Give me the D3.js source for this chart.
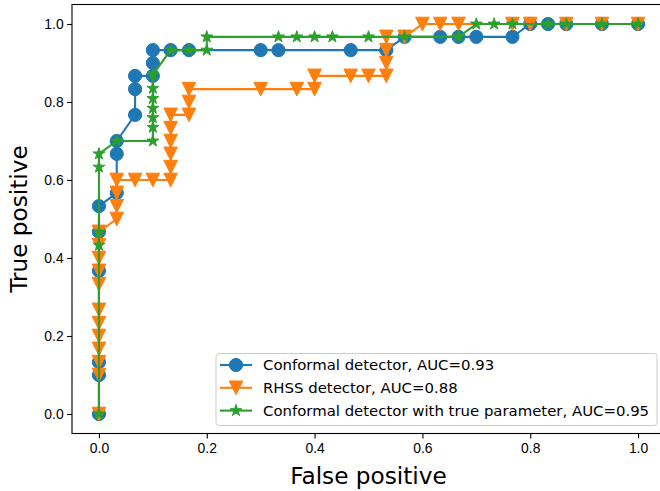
<!DOCTYPE html>
<html>
<head>
<meta charset="utf-8">
<script src="https://cdn.jsdelivr.net/npm/d3@7"></script>
<style>
  body { margin: 0; background: #fff; }
  svg { display: block; font-family: "DejaVu Sans", sans-serif; }
  .tick text { font-size: 13.9px; fill: #000; }
</style>
</head>
<body>
<div id="chart"></div>
<script>
// ROC curves
const conformalFpr = [0, 0, 0, 0, 0, 0, 0.033, 0.033, 0.033, 0.067, 0.067, 0.067, 0.1, 0.1, 0.1,
  0.133, 0.167, 0.3, 0.333, 0.467, 0.533, 0.567, 0.633, 0.667, 0.7, 0.767, 0.8, 0.833, 0.867, 0.933, 1.0];
const conformalTpr = [0, 0.1, 0.133, 0.367, 0.467, 0.533, 0.567, 0.667, 0.7, 0.767, 0.833, 0.867, 0.867, 0.9, 0.933,
  0.933, 0.933, 0.933, 0.933, 0.933, 0.933, 0.967, 0.967, 0.967, 0.967, 0.967, 1.0, 1.0, 1.0, 1.0, 1.0];

const rhssFpr = [0, 0, 0, 0, 0, 0, 0, 0, 0, 0, 0, 0,
  0.033, 0.033, 0.033, 0.033, 0.067, 0.1, 0.133, 0.133, 0.133, 0.133, 0.133, 0.133,
  0.167, 0.167, 0.167, 0.3, 0.367, 0.4, 0.4, 0.467, 0.5, 0.533, 0.533, 0.533, 0.533,
  0.567, 0.6, 0.633, 0.667, 0.767, 0.8, 0.867, 0.933, 1.0];
const rhssTpr = [0, 0.1, 0.133, 0.167, 0.2, 0.233, 0.267, 0.333, 0.367, 0.4, 0.433, 0.467,
  0.5, 0.533, 0.567, 0.6, 0.6, 0.6, 0.6, 0.633, 0.667, 0.7, 0.733, 0.767,
  0.767, 0.8, 0.833, 0.833, 0.833, 0.833, 0.867, 0.867, 0.867, 0.867, 0.9, 0.933, 0.967,
  0.967, 1.0, 1.0, 1.0, 1.0, 1.0, 1.0, 1.0, 1.0];

const trueParamFpr = [0, 0, 0, 0, 0, 0.033, 0.1, 0.1, 0.1, 0.1, 0.1, 0.1, 0.1,
  0.133, 0.167, 0.2, 0.2, 0.333, 0.367, 0.4, 0.433, 0.5, 0.567, 0.667,
  0.7, 0.733, 0.767, 0.833, 0.867, 0.933, 1.0];
const trueParamTpr = [0, 0.433, 0.467, 0.633, 0.667, 0.7, 0.7, 0.735, 0.76, 0.784, 0.809, 0.835, 0.87,
  0.933, 0.933, 0.933, 0.967, 0.967, 0.967, 0.967, 0.967, 0.967, 0.967, 0.967,
  1.0, 1.0, 1.0, 1.0, 1.0, 1.0, 1.0];

const seriesNames = ['Conformal detector, AUC=0.93', 'RHSS detector, AUC=0.88',
  'Conformal detector with true parameter, AUC=0.95'];
const seriesColors = ['#1f77b4', '#ff7f0e', '#2ca02c'];
const seriesMarkers = ['circle', 'triangle', 'star'];
const tickValues = [0, 0.2, 0.4, 0.6, 0.8, 1.0];

const W = 660, H = 491;
const AX = { left: 72, right: 665, top: 4.5, bottom: 433.5 };

const svg = d3.select('#chart').append('svg').attr('width', W).attr('height', H);

const x = d3.scaleLinear().domain([-0.05, 1.05]).range([AX.left, AX.right]);
const y = d3.scaleLinear().domain([-0.05, 1.05]).range([AX.bottom, AX.top]);

// markers, sized like matplotlib markersize 10
function markerPath(kind) {
  if (kind === 'circle') {
    const r = 6.6;
    return `M${-r},0A${r},${r} 0 1,0 ${r},0A${r},${r} 0 1,0 ${-r},0Z`;
  }
  if (kind === 'triangle') {
    const h = 6.8;
    return `M0,${h}L${-h},${-h}L${h},${-h}Z`;
  }
  // 5-point star
  const R = 6.2, r = R * 0.381966;
  const pts = [];
  for (let i = 0; i < 10; i++) {
    const a = -Math.PI / 2 + i * Math.PI / 5;
    const rad = i % 2 === 0 ? R : r;
    pts.push([rad * Math.cos(a), rad * Math.sin(a)]);
  }
  return 'M' + pts.map(p => p[0].toFixed(2) + ',' + p[1].toFixed(2)).join('L') + 'Z';
}

const series = [
  { fpr: conformalFpr, tpr: conformalTpr },
  { fpr: rhssFpr, tpr: rhssTpr },
  { fpr: trueParamFpr, tpr: trueParamTpr }
];

const plot = svg.append('g');
const line = d3.line().x(d => x(d[0])).y(d => y(d[1]));

series.forEach((s, i) => {
  const pts = s.fpr.map((f, k) => [f, s.tpr[k]]);
  const g = plot.append('g');
  g.append('path').datum(pts)
    .attr('d', line)
    .attr('fill', 'none')
    .attr('stroke', seriesColors[i])
    .attr('stroke-width', 2.08)
    .attr('stroke-linejoin', 'round');
  g.selectAll('path.mk').data(pts).join('path')
    .attr('class', 'mk')
    .attr('d', markerPath(seriesMarkers[i]))
    .attr('transform', d => `translate(${x(d[0])},${y(d[1])})`)
    .attr('fill', seriesColors[i])
    .attr('stroke', seriesColors[i])
    .attr('stroke-width', 1);
});

// axes
const fmt = d3.format('.1f');
svg.append('g')
  .attr('transform', `translate(0,${AX.bottom})`)
  .call(d3.axisBottom(x).tickValues(tickValues).tickFormat(fmt).tickSize(4.9).tickPadding(4.9))
  .call(g => g.select('.domain').remove());
svg.append('g')
  .attr('transform', `translate(${AX.left},0)`)
  .call(d3.axisLeft(y).tickValues(tickValues).tickFormat(fmt).tickSize(4.9).tickPadding(3.5))
  .call(g => g.select('.domain').remove());
svg.selectAll('.tick line').attr('stroke', '#000').attr('stroke-width', 1.1);

svg.append('rect')
  .attr('x', AX.left).attr('y', AX.top)
  .attr('width', AX.right - AX.left).attr('height', AX.bottom - AX.top)
  .attr('fill', 'none').attr('stroke', '#000').attr('stroke-width', 1.1);

// axis labels
svg.append('text')
  .attr('x', (AX.left + AX.right) / 2).attr('y', 484)
  .attr('text-anchor', 'middle').attr('font-size', 23.2)
  .text('False positive');
svg.append('text')
  .attr('transform', `translate(27,${(AX.top + AX.bottom) / 2}) rotate(-90)`)
  .attr('text-anchor', 'middle').attr('font-size', 23.2)
  .text('True positive');

// legend
const lg = svg.append('g');
lg.append('rect')
  .attr('x', 216).attr('y', 353.5).attr('width', 441).attr('height', 72)
  .attr('rx', 3).attr('fill', 'rgba(255,255,255,0.8)')
  .attr('stroke', '#ccc').attr('stroke-width', 1);
seriesNames.forEach((name, i) => {
  const cy = 365 + i * 22.8;
  lg.append('line')
    .attr('x1', 220).attr('x2', 252).attr('y1', cy).attr('y2', cy)
    .attr('stroke', seriesColors[i]).attr('stroke-width', 2.08);
  lg.append('path')
    .attr('d', markerPath(seriesMarkers[i]))
    .attr('transform', `translate(236,${cy})`)
    .attr('fill', seriesColors[i]).attr('stroke', seriesColors[i]);
  lg.append('text')
    .attr('x', 263).attr('y', cy + 5.3)
    .attr('font-size', 14.9).attr('fill', '#000')
    .text(name);
});
</script>
</body>
</html>
